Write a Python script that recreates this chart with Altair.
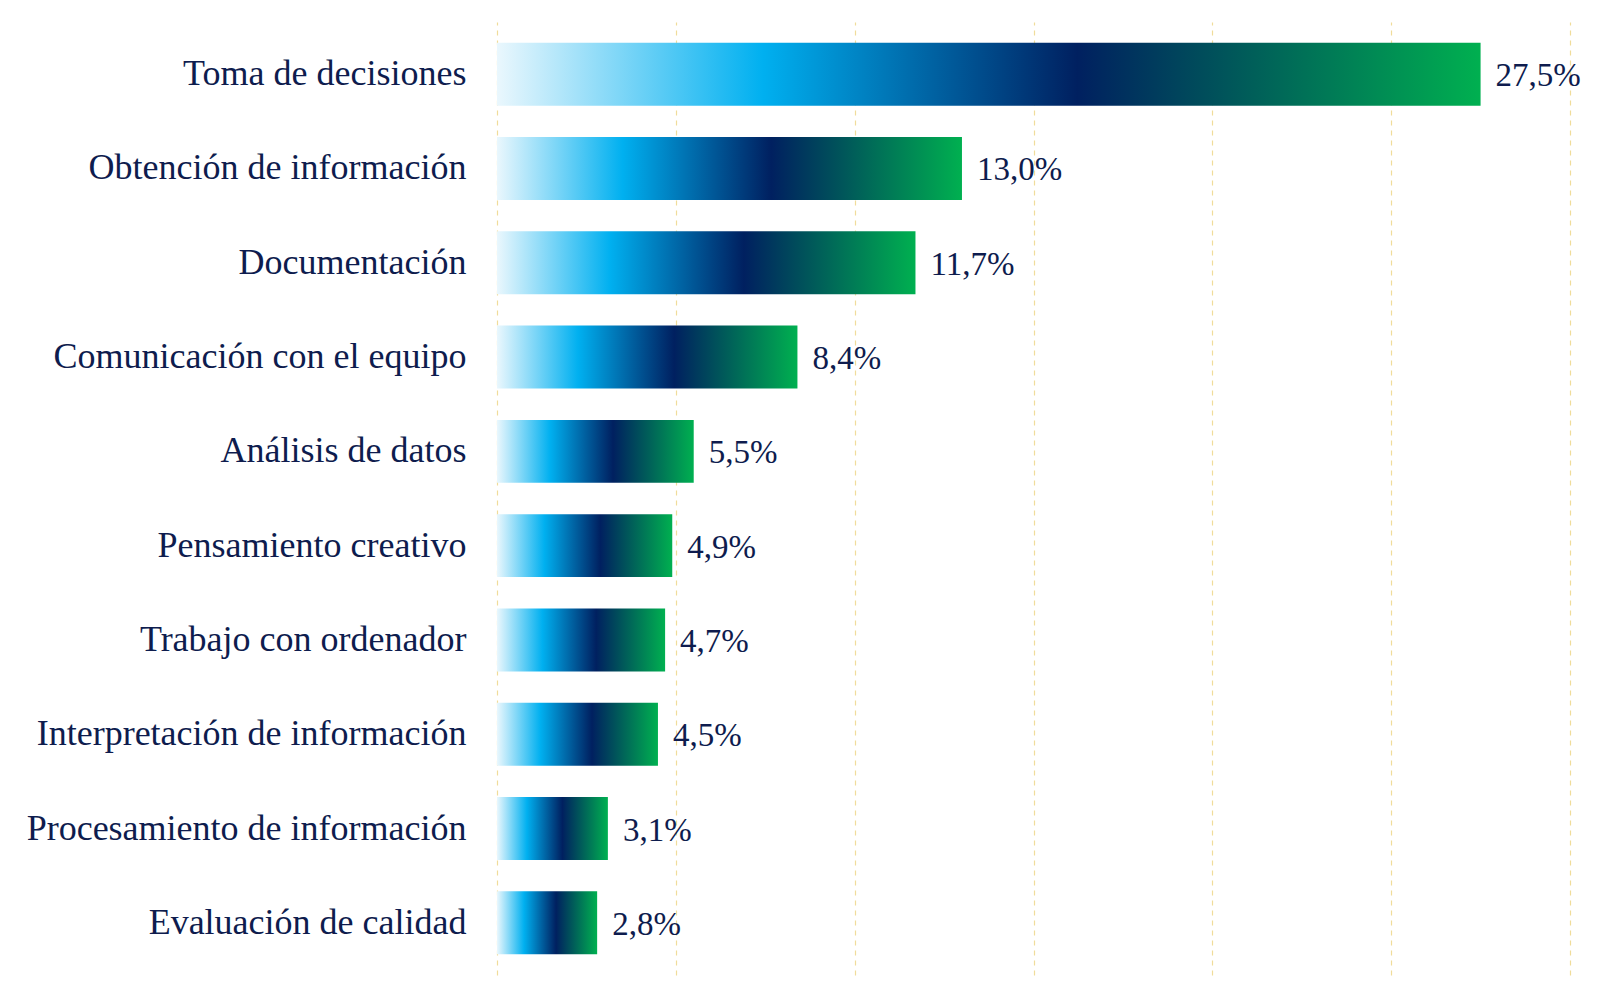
import altair as alt
import pandas as pd

categories = [
    "Toma de decisiones",
    "Obtención de información",
    "Documentación",
    "Comunicación con el equipo",
    "Análisis de datos",
    "Pensamiento creativo",
    "Trabajo con ordenador",
    "Interpretación de información",
    "Procesamiento de información",
    "Evaluación de calidad",
]
values = [27.5, 13.0, 11.7, 8.4, 5.5, 4.9, 4.7, 4.5, 3.1, 2.8]
labels = ["27,5%", "13,0%", "11,7%", "8,4%", "5,5%", "4,9%", "4,7%", "4,5%", "3,1%", "2,8%"]
x_ticks = [0, 5, 10, 15, 20, 25, 30]

df = pd.DataFrame({"cat": categories, "val": values, "lab": labels})

TEXT = "#0e1c4e"
FONT = "Liberation Serif"

grad = alt.LinearGradient(
    gradient="linear",
    x1=0, x2=1, y1=0, y2=0,
    stops=[
        alt.GradientStop(offset=0, color="#eaf7fd"),
        alt.GradientStop(offset=0.27, color="#00b0f0"),
        alt.GradientStop(offset=0.59, color="#002060"),
        alt.GradientStop(offset=1, color="#00b050"),
    ],
)

y_enc = alt.Y(
    "cat:N",
    sort=categories,
    scale=alt.Scale(paddingInner=0.333, paddingOuter=0.22),
    axis=alt.Axis(
        title=None, domain=False, ticks=False, labelPadding=31,
        labelFont=FONT, labelFontSize=36, labelColor=TEXT, labelLimit=600,
    ),
)
x_enc = alt.X(
    "val:Q",
    scale=alt.Scale(domain=[0, 30], nice=False),
    axis=alt.Axis(
        title=None, labels=False, ticks=False, domain=False, values=x_ticks,
        grid=True, gridColor="#f0dc9a", gridDash=[5, 5], gridWidth=1.2,
    ),
)

bars = alt.Chart(df).mark_bar(color=grad).encode(x=x_enc, y=y_enc)
text = alt.Chart(df).mark_text(
    align="left", baseline="middle", dx=15, dy=2, font=FONT, fontSize=33, color=TEXT
).encode(x="val:Q", y=alt.Y("cat:N", sort=categories), text="lab:N")

chart = (
    alt.layer(bars, text)
    .properties(
        width=1073, height=953,
        autosize=alt.AutoSizeParams(type="none"),
        padding={"left": 489, "top": 14, "right": 18, "bottom": 8},
        background="white",
    )
    .configure_view(stroke=None)
)

chart.save("out.html", embed_options={"renderer": "svg", "actions": False})
